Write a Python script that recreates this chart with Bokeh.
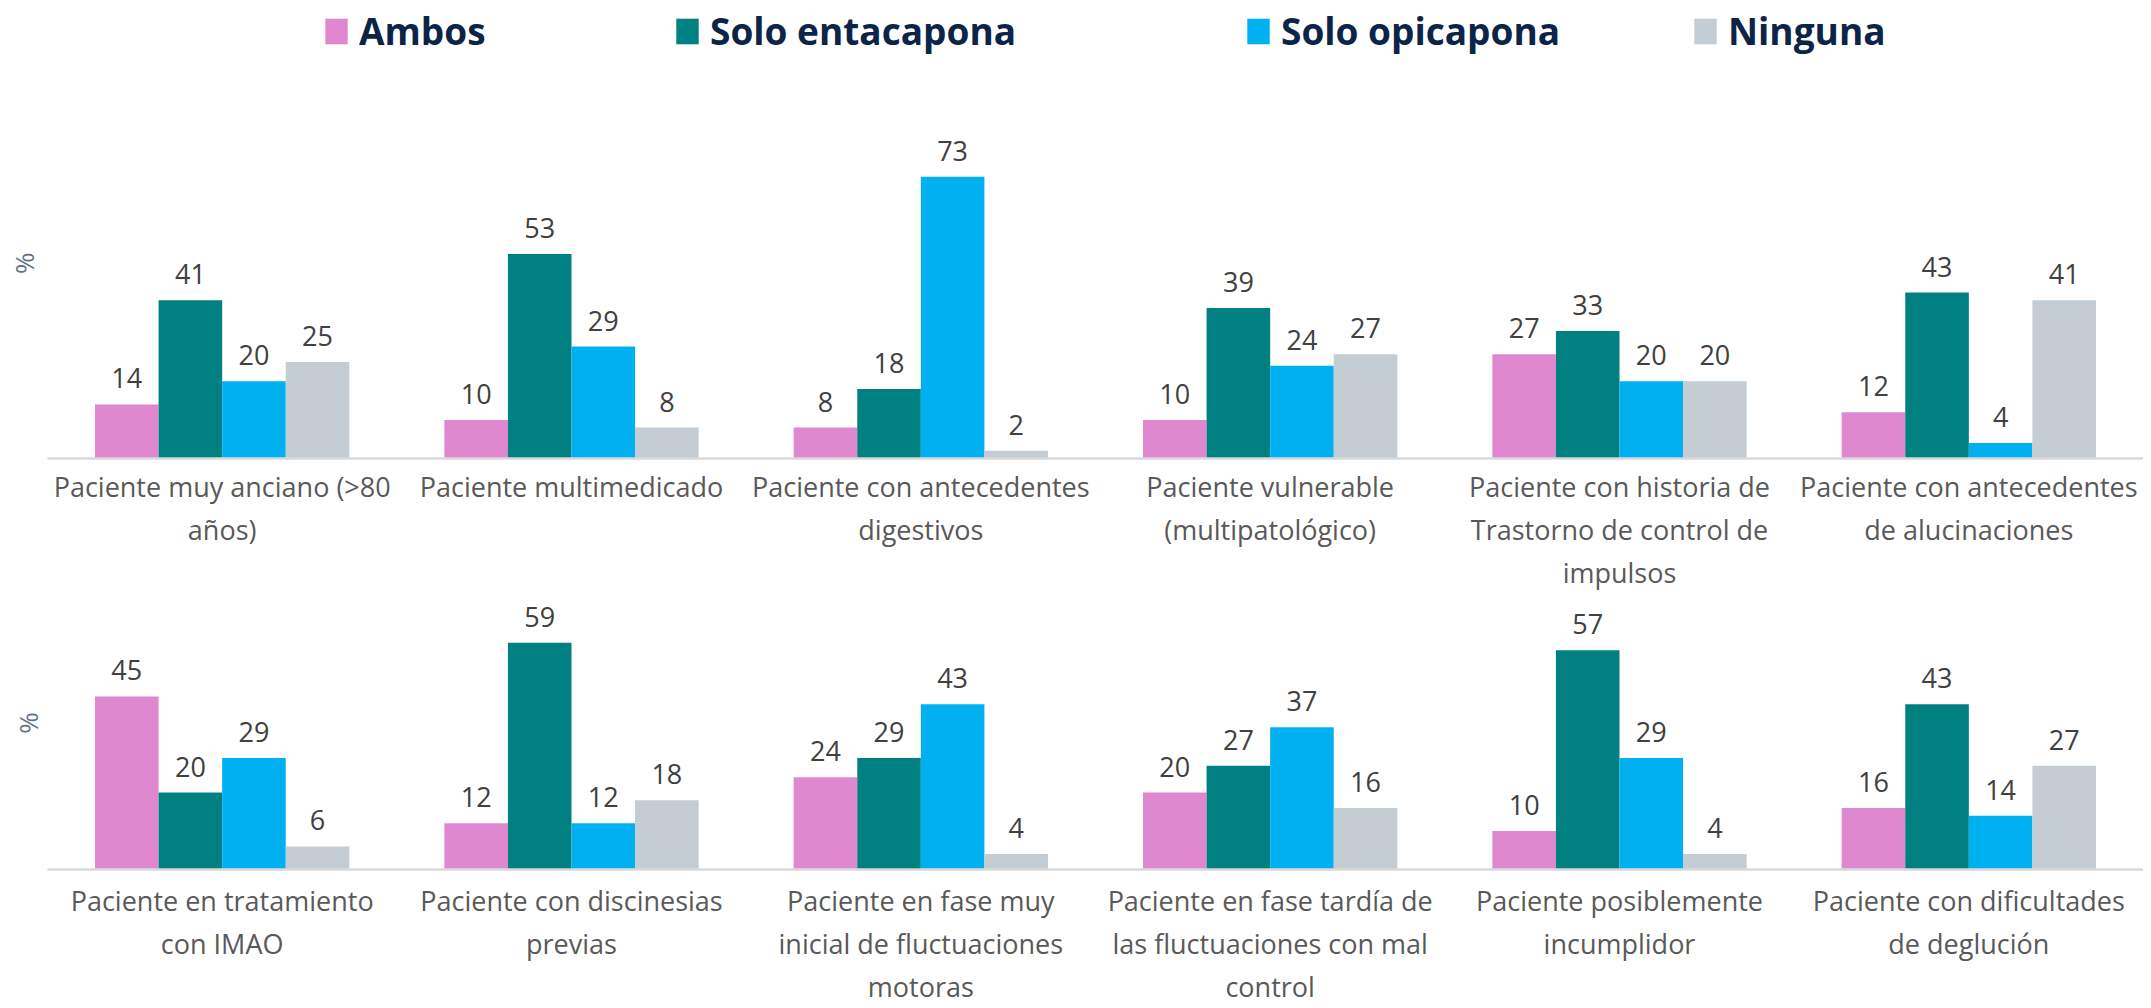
from bokeh.plotting import figure
from bokeh.models import ColumnDataSource, FactorRange, Range1d, Legend, LegendItem, FixedTicker
from bokeh.transform import dodge
from bokeh.layouts import column
from bokeh.core.properties import value
from bokeh.embed import file_html
from bokeh.resources import INLINE

series = ["Ambos", "Solo entacapona", "Solo opicapona", "Ninguna"]
colors = ["#df88d0", "#008080", "#00b0f0", "#c3cdd3"]

# category labels (line breaks as in the original chart)
cats_top = [
    "Paciente muy anciano (>80\naños)",
    "Paciente multimedicado",
    "Paciente con antecedentes\ndigestivos",
    "Paciente vulnerable\n(multipatológico)",
    "Paciente con historia de\nTrastorno de control de\nimpulsos",
    "Paciente con antecedentes\nde alucinaciones",
]
ambos_top = [14, 10, 8, 10, 27, 12]
enta_top = [41, 53, 18, 39, 33, 43]
opi_top = [20, 29, 73, 24, 20, 4]
ninguna_top = [25, 8, 2, 27, 20, 41]

cats_bot = [
    "Paciente en tratamiento\ncon IMAO",
    "Paciente con discinesias\nprevias",
    "Paciente en fase muy\ninicial de fluctuaciones\nmotoras",
    "Paciente en fase tardía de\nlas fluctuaciones con mal\ncontrol",
    "Paciente posiblemente\nincumplidor",
    "Paciente con dificultades\nde deglución",
]
ambos_bot = [45, 12, 24, 20, 10, 16]
enta_bot = [20, 59, 29, 27, 57, 43]
opi_bot = [29, 12, 43, 37, 29, 14]
ninguna_bot = [6, 18, 4, 16, 4, 27]

BAR_W = 0.182
OFFSETS = [-1.5 * BAR_W, -0.5 * BAR_W, 0.5 * BAR_W, 1.5 * BAR_W]
FONT = "Open Sans"
LEGEND_X = [278, 629, 1200, 1647]
NB = "\u00a0"


def make_chart(cats, vals, width, height, ymax, border_left, border_bottom, standoff,
               pct_text, pct_standoff, with_legend):
    p = figure(x_range=FactorRange(*cats), y_range=Range1d(0, ymax),
               width=width, height=height, output_backend="svg",
               toolbar_location=None, min_border_left=border_left,
               min_border_right=0, min_border_top=0,
               min_border_bottom=border_bottom)
    p.outline_line_color = None
    p.xgrid.visible = False
    p.ygrid.visible = False
    p.background_fill_color = "white"
    p.border_fill_color = "white"

    renderers = []
    for s, v, c, off in zip(series, vals, colors, OFFSETS):
        src = ColumnDataSource(dict(cat=cats, val=v, lbl=[str(x) for x in v]))
        r = p.vbar(x=dodge("cat", off, range=p.x_range), top="val", width=BAR_W,
                   source=src, fill_color=c, line_color=None)
        renderers.append(r)
        p.text(x=dodge("cat", off, range=p.x_range), y="val", text="lbl", source=src,
               text_align="center", text_baseline="alphabetic", y_offset=-26,
               text_font=value(FONT), text_font_size="27px", text_color="#404040")

    ax = p.xaxis[0]
    ax.axis_line_color = "#d9d9d9"
    ax.axis_line_width = 2.5
    ax.major_tick_line_color = None
    ax.minor_tick_line_color = None
    ax.major_tick_out = 0
    ax.major_tick_in = 0
    ax.minor_tick_out = 0
    ax.major_label_text_font = FONT
    ax.major_label_text_font_size = "27px"
    ax.major_label_text_color = "#595959"
    ax.major_label_text_line_height = 1.17
    ax.major_label_standoff = standoff

    ya = p.yaxis[0]
    ya.ticker = FixedTicker(ticks=[])
    ya.axis_line_color = None
    ya.major_tick_line_color = None
    ya.minor_tick_line_color = None
    ya.major_tick_out = 0
    ya.major_label_text_font_size = "0px"
    ya.axis_label = pct_text
    ya.axis_label_text_font = FONT
    ya.axis_label_text_font_style = "normal"
    ya.axis_label_text_font_size = "26px"
    ya.axis_label_text_color = "#5f7184"
    ya.axis_label_standoff = pct_standoff

    if with_legend:
        for s, r, lx in zip(series, renderers, LEGEND_X):
            leg = Legend(items=[LegendItem(label=s, renderers=[r])],
                         orientation="horizontal", location=(lx - 3, 402),
                         glyph_width=28, glyph_height=32, label_standoff=9,
                         padding=0, margin=0, border_line_color=None,
                         background_fill_alpha=0,
                         label_text_font=FONT, label_text_font_size="37px",
                         label_text_font_style="bold", label_text_color="#0b2447",
                         label_height=44)
            p.add_layout(leg, "center")
    return p


top = make_chart(cats_top, [ambos_top, enta_top, opi_top, ninguna_top],
                 2143, 596, 118.65, 47, 138, 9, "%" + NB * 10, 6, True)
bot = make_chart(cats_bot, [ambos_bot, enta_bot, opi_bot, ninguna_bot],
                 2143, 412, 71.0, 40, 138, 12, NB * 3 + "%", 2, False)

layout = column(top, bot, spacing=0)
open("out.html", "w").write(file_html(layout, INLINE))
